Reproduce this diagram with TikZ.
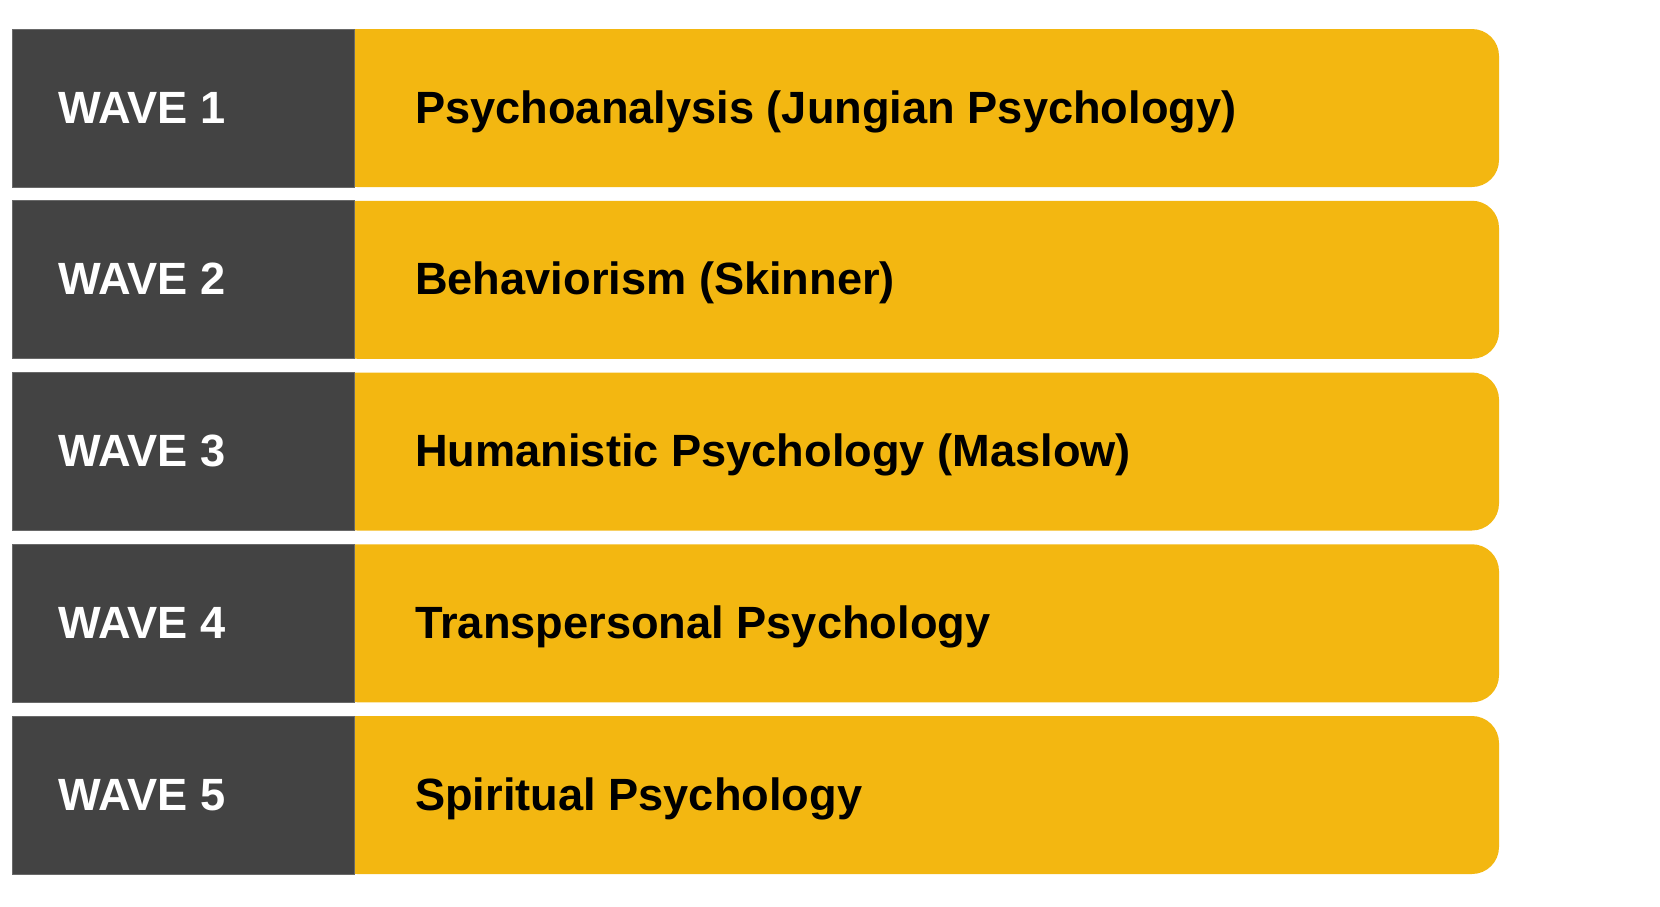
\documentclass[tikz,border=0pt]{standalone}
\usepackage{fontspec}
\setmainfont{Liberation Sans}
\definecolor{wavegray}{HTML}{434343}
\definecolor{waveyellow}{HTML}{F3B711}
\begin{document}
\begin{tikzpicture}[x=1pt,y=-1pt,
  wave box/.style={fill=wavegray,draw=wavegray!80!white,line width=0.8pt,minimum width=342pt,minimum height=158pt,inner sep=0pt},
  topic box/.style={fill=waveyellow,rounded corners=27pt,minimum width=1169pt,minimum height=158pt,inner sep=0pt},
  wave text/.style={font=\fontsize{45.2}{50}\selectfont\bfseries,text=white,inner sep=0pt,anchor=base west},
  topic text/.style={font=\fontsize{45.2}{50}\selectfont\bfseries,text=black,inner sep=0pt,anchor=base west}]

  \useasboundingbox (0,0) rectangle (1660,906);

  \foreach \i/\topic in {1/Psychoanalysis (Jungian Psychology),
                         2/Behaviorism (Skinner),
                         3/Humanistic Psychology (Maslow),
                         4/Transpersonal Psychology,
                         5/Spiritual Psychology}{
    \pgfmathsetmacro{\rowy}{108+(\i-1)*171.75}
    \node[topic box] (topic\i) at (914.5,\rowy) {};
    \node[wave box] (wave\i) at (183,\rowy) {};
    \node[wave text] (wavelabel\i) at (58,\rowy+15) {WAVE \i};
    \node[topic text] (topiclabel\i) at (415,\rowy+15) {\topic};
  }
\end{tikzpicture}
\end{document}
